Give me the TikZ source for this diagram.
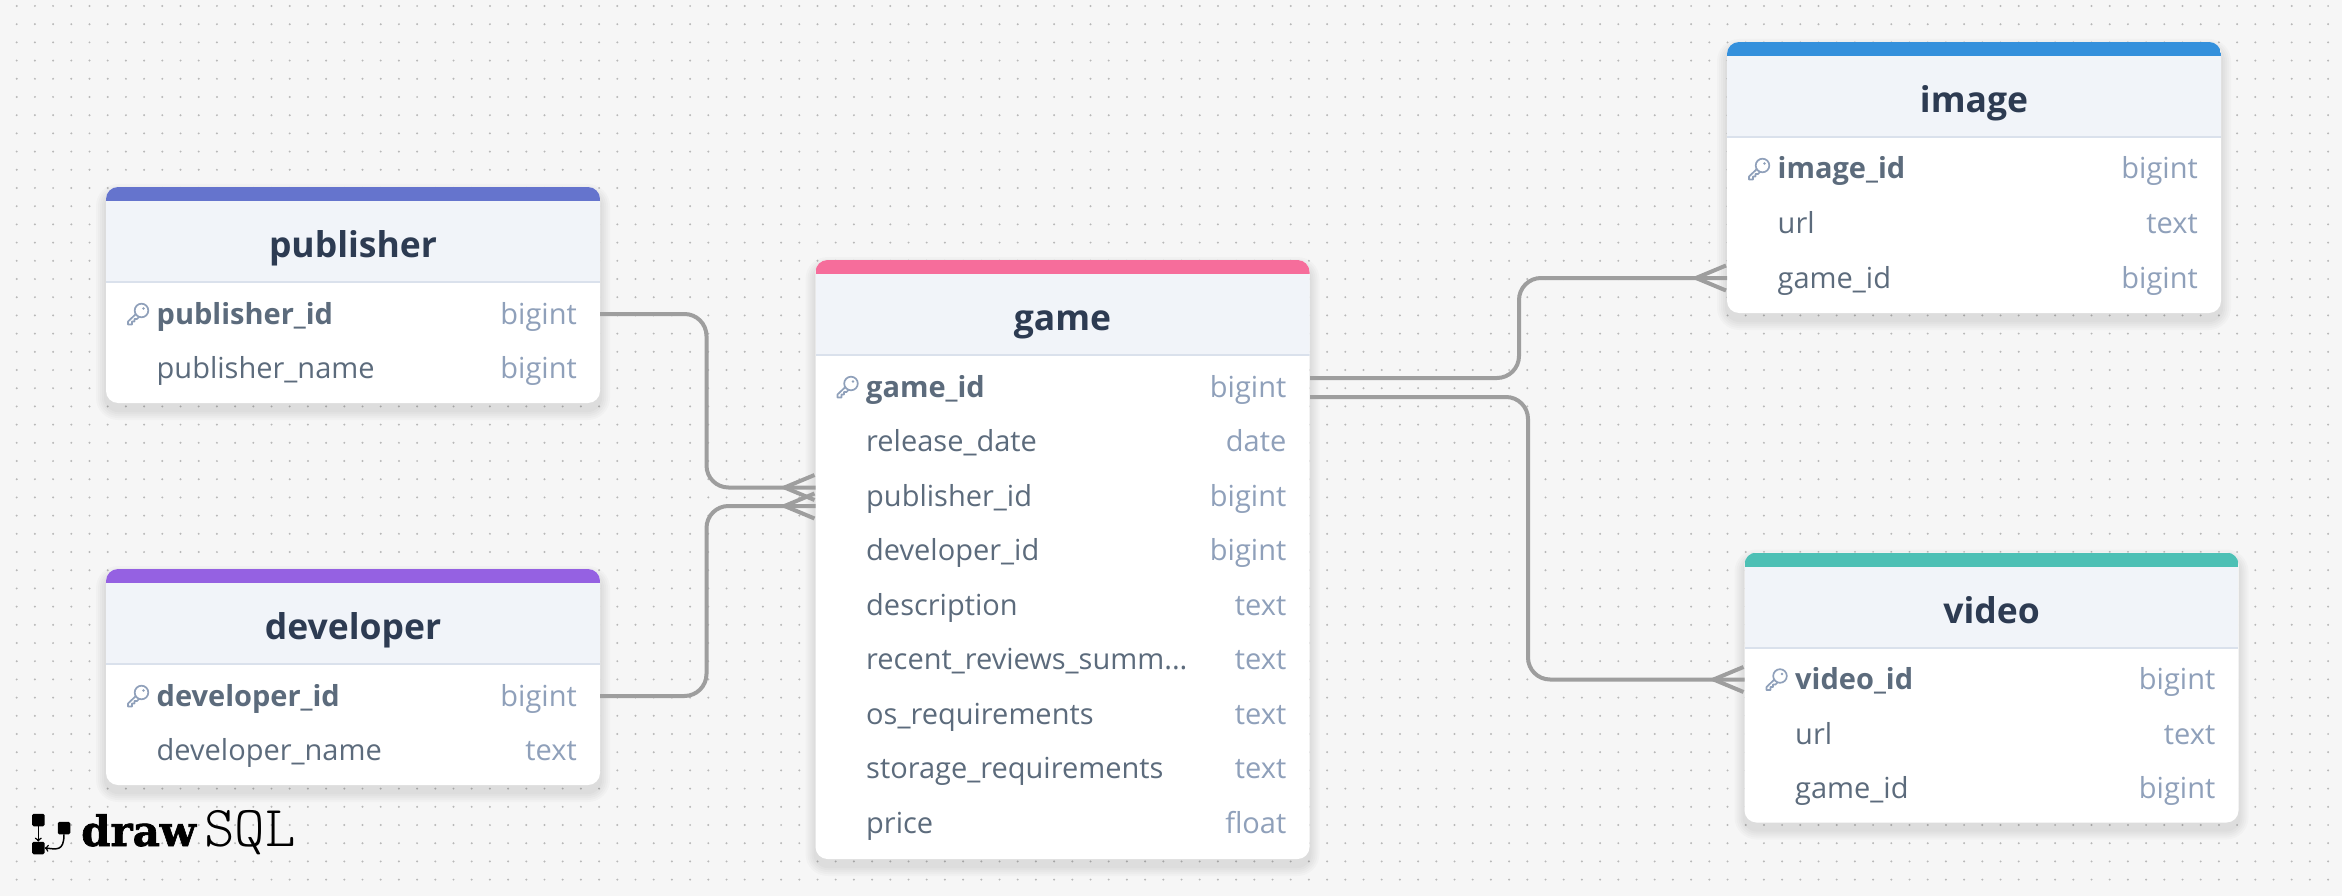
\documentclass[tikz,border=0pt]{standalone}
\usepackage{fontspec}
\setmainfont{Open Sans}
\newfontfamily\logofont[FakeBold=1.5]{DejaVu Serif Bold}
\usetikzlibrary{calc}
\definecolor{page tone}{HTML}{F6F6F6}
\definecolor{dot tone}{HTML}{B8B8B8}
\definecolor{head tone}{HTML}{F1F4F9}
\definecolor{rule tone}{HTML}{DAE1EC}
\definecolor{title tone}{HTML}{2D3B52}
\definecolor{field tone}{HTML}{5C6B7C}
\definecolor{type tone}{HTML}{8FA0BA}
\definecolor{link tone}{HTML}{9E9E9E}
\definecolor{publisher tone}{HTML}{6574CD}
\definecolor{developer tone}{HTML}{9561E2}
\definecolor{game tone}{HTML}{F66D9B}
\definecolor{image tone}{HTML}{3490DC}
\definecolor{video tone}{HTML}{4DC0B5}
\tikzset{
  card/.style={fill=white, rounded corners=12pt, minimum width=494pt, inner sep=0pt, outer sep=0pt, anchor=north west},
  keyicon/.pic={
    \draw[type tone, line width=1.7pt, fill=white, line join=round] (0,-2) -- (-10,7.5) -- (-10,10.5) -- (-6,10.5) -- (-6,7.5) -- (-3.5,7.5) -- (-3.5,5) -- (-1,5) -- (2,2);
    \draw[type tone, line width=1.7pt, fill=white] (3.5,-3.5) circle (6.8pt);
    \fill[type tone] (5.5,-5.5) circle (1.3pt);
  }
}
\tikzstyle{table title}=[inner sep=0pt, text=title tone, font=\fontsize{35.5}{35.5}\selectfont\bfseries, text height=33pt, text depth=8pt]
\tikzstyle{key field}=[inner sep=0pt, anchor=west, text=field tone, font=\fontsize{29}{29}\selectfont\bfseries, text height=28pt, text depth=8pt]
\tikzstyle{field}=[inner sep=0pt, anchor=west, text=field tone, font=\fontsize{29}{29}\selectfont, text height=28pt, text depth=8pt]
\tikzstyle{kind}=[inner sep=0pt, anchor=east, text=type tone, font=\fontsize{29}{29}\selectfont, text height=28pt, text depth=8pt]
\tikzstyle{link}=[draw, line width=4pt, link tone]
\tikzstyle{logo box}=[fill=black, minimum size=12.5pt, inner sep=0pt, rounded corners=1.5pt]
\tikzstyle{logo arrow}=[draw, line width=1.5pt, black, -to]

\begin{document}
\begin{tikzpicture}[x=1pt, y=-1pt]
    % The page and its dots
    \fill[page tone] (0,0) rectangle (2342,896);
    \useasboundingbox (0,0) rectangle (2342,896);
    \foreach \i in {0,...,128} {
      \foreach \j in {0,...,48} {
        \fill[dot tone] (16.7+18.2*\i,6+18.2*\j) circle (1.1pt);
      }
    }

    % The tables
    \foreach \x/\y/\name/\high/\title in {106/187/publisher/216/publisher, 106/569/developer/216/developer, 815.5/260/game/599/game, 1727/42/image/271/image, 1744.5/552.5/video/270/video} {
      \foreach \spread in {10,8,6,4,2} {
        \fill[black, opacity=.018, rounded corners=12pt+\spread pt] (\x-\spread,\y-\spread+7) rectangle (\x+494+\spread,\y+\high+\spread+7);
      }
      \node[card, minimum height=\high pt, path picture={
        \fill[head tone, sharp corners] (path picture bounding box.north west) rectangle +(494,95);
        \fill[\name\space tone, sharp corners] (path picture bounding box.north west) rectangle +(494,14);
        \fill[rule tone, sharp corners] ($(path picture bounding box.north west)+(0,94)$) rectangle +(494,2);
      }] (\name) at (\x,\y) {};
      \node[table title] (\name-title) at ($(\name.north)+(0,58)$) {\title};
    }

    % The key rows
    \foreach \table/\field/\kind in {publisher/publisher\_id/bigint, developer/developer\_id/bigint, game/game\_id/bigint, image/image\_id/bigint, video/video\_id/bigint} {
      \node[key field] (\table-0) at ($(\table.north west)+(50.5,127)$) {\field};
      \node[kind] (\table-0-kind) at ($(\table.north east)+(-23,127)$) {\kind};
      \path ($(\table.north west)+(32,127)$) pic {keyicon};
    }

    % The other rows
    \def\cutname{recent\_reviews\_summ...}
    \foreach \table/\row/\field/\kind in {publisher/1/publisher\_name/bigint, developer/1/developer\_name/text, game/1/release\_date/date, game/2/publisher\_id/bigint, game/3/developer\_id/bigint, game/4/description/text, game/5/\cutname/text, game/6/os\_requirements/text, game/7/storage\_requirements/text, game/8/price/float, image/1/url/text, image/2/game\_id/bigint, video/1/url/text, video/2/game\_id/bigint} {
      \node[field] (\table-\row) at ($(\table.north west)+(50.5,127+54.5*\row)$) {\field};
      \node[kind] (\table-\row-kind) at ($(\table.north east)+(-23,127+54.5*\row)$) {\kind};
    }

    % The ends of the connections
    \coordinate (publisher out) at (publisher.east |- publisher-0);
    \coordinate (developer out) at (developer.east |- developer-0);
    \coordinate (game out a) at (1310,378);
    \coordinate (game out b) at (1310,397);
    \coordinate (game in a) at (815.5,487.5);
    \coordinate (game in b) at (815.5,506);
    \coordinate (image in) at (image.west |- image-2);
    \coordinate (video in) at (video.west |- video-0);
    \coordinate (lane a) at (706.5,0);
    \coordinate (lane b) at (1519,0);
    \coordinate (lane c) at (1528,0);

    % The connections between them
    \foreach \source/\lane/\sink in {publisher out/lane a/game in a, developer out/lane a/game in b, game out a/lane b/image in, game out b/lane c/video in} {
      \path[link, rounded corners=22pt] (\source) -- (\source -| \lane) -- (\lane |- \sink) -- (\sink);
    }
    \foreach \sink in {game in a, game in b, image in, video in} {
      \path[link] ($(\sink)+(-1,-12.5)$) -- ($(\sink)+(-31,0)$) -- ($(\sink)+(-1,12.5)$);
    }

    % The logo
    \node[logo box] (logo a) at (38.3,820) {};
    \node[logo box] (logo b) at (38.3,848) {};
    \node[logo box] (logo c) at (64,828) {};
    \path[logo arrow] (logo a) -- (logo b.north);
    \path[logo arrow] (logo c.south) .. controls (64,852) and (56,849) .. (logo b.east);
    \node[inner sep=0pt, anchor=base west, font=\logofont\fontsize{42}{42}\selectfont] (logo draw) at (81,846) {draw};
    \node[inner sep=0pt, anchor=base west, font=\fontsize{58}{58}\selectfont\fontseries{l}\ttfamily] (logo sql) at (204,846) {SQL};
\end{tikzpicture}
\end{document}
